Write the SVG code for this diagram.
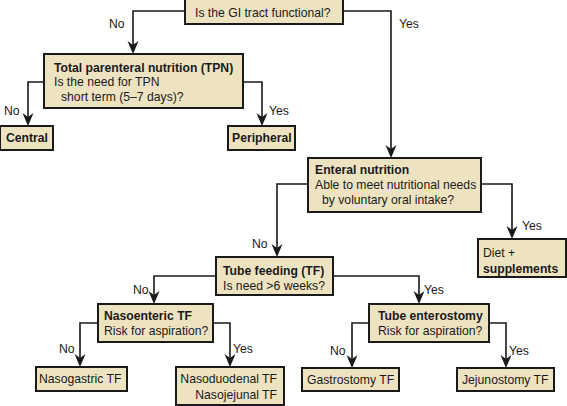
<svg xmlns="http://www.w3.org/2000/svg" width="567" height="406" viewBox="0 0 567 406">
<style>
.box{fill:#EEE3C1;stroke:#1a1a1a;stroke-width:2}
text{font-family:"Liberation Sans",Arial,sans-serif;font-size:12.2px;fill:#1a1a1a}
.b{font-weight:bold}
.c{fill:none;stroke:#1a1a1a;stroke-width:1.6}
.h{fill:#1a1a1a}
</style>
<defs>
<path id="hd" class="h" d="M-5.5,-13 L0,-9 L5.5,-13 L0,0 Z"/>
</defs>
<rect width="567" height="406" fill="#fff"/>
<g id="connectors">
<path class="c" d="M185,11 H133 V50"/>
<path class="c" d="M343,11 H391 V154"/>
<path class="c" d="M44,82 H28 V122"/>
<path class="c" d="M243,82 H262 V122"/>
<path class="c" d="M308,184 H277 V253"/>
<path class="c" d="M481,184 H512 V235"/>
<path class="c" d="M216,276 H154 V300"/>
<path class="c" d="M333,276 H419 V300"/>
<path class="c" d="M98,323 H80 V363"/>
<path class="c" d="M213,323 H230 V363"/>
<path class="c" d="M369,323 H352 V364"/>
<path class="c" d="M489,323 H506 V364"/>
<use href="#hd" x="133" y="54"/>
<use href="#hd" x="391" y="158"/>
<use href="#hd" x="28" y="126"/>
<use href="#hd" x="262" y="126"/>
<use href="#hd" x="277" y="257"/>
<use href="#hd" x="512" y="239"/>
<use href="#hd" x="154" y="304"/>
<use href="#hd" x="419" y="304"/>
<use href="#hd" x="80" y="367"/>
<use href="#hd" x="230" y="367"/>
<use href="#hd" x="352" y="368"/>
<use href="#hd" x="506" y="368"/>
<text x="109" y="28">No</text>
<text x="399" y="28">Yes</text>
<text x="4" y="115">No</text>
<text x="269" y="115">Yes</text>
<text x="252" y="248">No</text>
<text x="522" y="230">Yes</text>
<text x="133" y="294">No</text>
<text x="424" y="294">Yes</text>
<text x="59" y="353">No</text>
<text x="233" y="353">Yes</text>
<text x="330" y="355">No</text>
<text x="509" y="355">Yes</text>
</g>
<g id="gi">
<rect class="box" x="185" y="-1" width="158" height="25"/>
<text x="195" y="17">Is the GI tract functional?</text>
</g>
<g id="tpn">
<rect class="box" x="44" y="54" width="199" height="54"/>
<text class="b" x="54" y="72">Total parenteral nutrition (TPN)</text>
<text x="54" y="86">Is the need for TPN</text>
<text x="61" y="101">short term (5–7 days)?</text>
</g>
<g id="central">
<rect class="box" x="0" y="126" width="53" height="24"/>
<text class="b" x="6" y="142">Central</text>
</g>
<g id="peripheral">
<rect class="box" x="228" y="126" width="67" height="24"/>
<text class="b" x="232" y="142">Peripheral</text>
</g>
<g id="enteral">
<rect class="box" x="308" y="158" width="173" height="54"/>
<text class="b" x="315" y="174">Enteral nutrition</text>
<text x="315" y="189">Able to meet nutritional needs</text>
<text x="322" y="204">by voluntary oral intake?</text>
</g>
<g id="diet">
<rect class="box" x="478" y="239" width="88" height="38"/>
<text x="483" y="257">Diet +</text>
<text class="b" x="483" y="273">supplements</text>
</g>
<g id="tubefeeding">
<rect class="box" x="216" y="257" width="117" height="38"/>
<text class="b" x="223" y="275">Tube feeding (TF)</text>
<text x="223" y="290">Is need &gt;6 weeks?</text>
</g>
<g id="nasoenteric">
<rect class="box" x="98" y="304" width="115" height="38"/>
<text class="b" x="104" y="320">Nasoenteric TF</text>
<text x="104" y="335">Risk for aspiration?</text>
</g>
<g id="enterostomy">
<rect class="box" x="369" y="304" width="120" height="38"/>
<text class="b" x="378" y="320">Tube enterostomy</text>
<text x="378" y="335">Risk for aspiration?</text>
</g>
<g id="nasogastric">
<rect class="box" x="36" y="367" width="91" height="24"/>
<text x="39" y="383">Nasogastric TF</text>
</g>
<g id="nasoduodenal">
<rect class="box" x="176" y="367" width="108" height="38"/>
<text x="277" y="383" text-anchor="end">Nasoduodenal TF</text>
<text x="277" y="399" text-anchor="end">Nasojejunal TF</text>
</g>
<g id="gastrostomy">
<rect class="box" x="302" y="368" width="97" height="23"/>
<text x="307" y="384">Gastrostomy TF</text>
</g>
<g id="jejunostomy">
<rect class="box" x="457" y="368" width="97" height="23"/>
<text x="462" y="384">Jejunostomy TF</text>
</g>
</svg>
